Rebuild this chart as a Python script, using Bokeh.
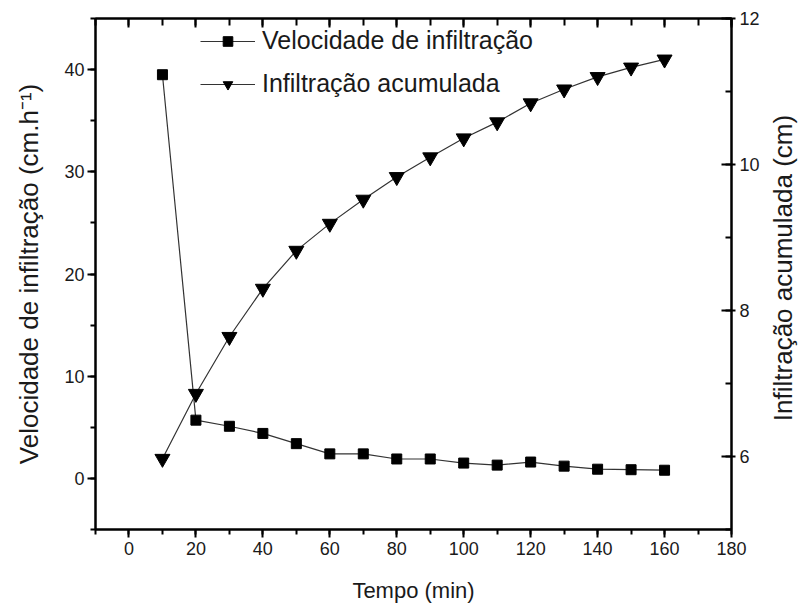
from bokeh.plotting import figure
from bokeh.layouts import row
from bokeh.models import (LinearAxis, Range1d, SingleIntervalTicker, Legend, LegendItem, Div)
from bokeh.embed import file_html
from bokeh.resources import INLINE

# ---- data ----
tempo = [10, 20, 30, 40, 50, 60, 70, 80, 90, 100, 110, 120, 130, 140, 150, 160]
velocidade = [39.5, 5.7, 5.1, 4.4, 3.4, 2.4, 2.4, 1.9, 1.9, 1.5, 1.3, 1.6, 1.2, 0.9, 0.85, 0.8]
acumulada = [5.97, 6.86, 7.64, 8.30, 8.82, 9.19, 9.52, 9.83, 10.10, 10.36, 10.58, 10.84, 11.03, 11.20, 11.33, 11.44]

x_ticks = [0, 20, 40, 60, 80, 100, 120, 140, 160, 180]
x_label = "Tempo (min)"
y_label = "Velocidade de infiltração (cm.h⁻¹)"
y2_label = "Infiltração acumulada (cm)"
series_names = ["Velocidade de infiltração", "Infiltração acumulada"]

FONT = "Liberation Sans"
TXT = "#1a1a1a"

p = figure(width=762, height=606, output_backend="svg", toolbar_location=None,
           x_range=Range1d(-10, 180), y_range=Range1d(-5, 45),
           min_border_left=95, min_border_right=29, min_border_top=18, min_border_bottom=77)
p.extra_y_ranges = {"y2": Range1d(5, 12)}
p.xgrid.visible = False
p.ygrid.visible = False
p.outline_line_color = "black"
p.outline_line_width = 2
p.background_fill_color = "white"
p.border_fill_color = "white"

def style_axis(ax):
    ax.axis_line_width = 2
    ax.axis_line_color = "black"
    ax.major_tick_line_width = 2
    ax.minor_tick_line_width = 2
    ax.major_tick_line_color = "black"
    ax.minor_tick_line_color = "black"
    ax.major_label_text_font = FONT
    ax.major_label_text_font_size = "18px"
    ax.major_label_text_color = TXT
    ax.axis_label_text_font = FONT
    ax.axis_label_text_font_size = "22px"
    ax.axis_label_text_font_style = "normal"
    ax.axis_label_text_color = TXT

# bottom axis
xa = p.xaxis[0]
xa.ticker = SingleIntervalTicker(interval=20, num_minor_ticks=2)
style_axis(xa)
xa.major_tick_out = 8
xa.major_tick_in = 0
xa.minor_tick_out = 5
xa.minor_tick_in = 0
xa.major_label_standoff = 4
xa.axis_label = x_label
xa.axis_label_standoff = 20

# left axis
ya = p.yaxis[0]
ya.ticker = SingleIntervalTicker(interval=10, num_minor_ticks=2)
style_axis(ya)
ya.axis_label_text_font_size = "26px"
ya.major_tick_out = 8
ya.major_tick_in = 0
ya.minor_tick_out = 5
ya.minor_tick_in = 0
ya.major_label_standoff = 3
ya.axis_label = y_label
ya.axis_label_standoff = 17

# top mirrored axis (ticks only)
top = LinearAxis(ticker=SingleIntervalTicker(interval=20, num_minor_ticks=2))
style_axis(top)
top.major_tick_out = 0
top.major_tick_in = 9
top.minor_tick_out = 0
top.minor_tick_in = 7
top.major_label_overrides = {t: "" for t in x_ticks}
top.major_label_standoff = 0
p.add_layout(top, "above")

# right axis (its title is set beside the plot so it reads bottom-to-top)
ra = LinearAxis(y_range_name="y2", ticker=SingleIntervalTicker(interval=2, num_minor_ticks=2))
style_axis(ra)
ra.major_tick_out = 4
ra.major_tick_in = 10
ra.minor_tick_out = 0
ra.minor_tick_in = 6
ra.major_label_standoff = 4
p.add_layout(ra, "right")

# series
l1 = p.line(tempo, velocidade, line_color="#333333", line_width=1.2)
s1 = p.scatter(tempo, velocidade, marker="square", size=10, fill_color="black", line_color="black")
l2 = p.line(tempo, acumulada, y_range_name="y2", line_color="#333333", line_width=1.2)
s2 = p.scatter(tempo, acumulada, y_range_name="y2", marker="inverted_triangle", size=15,
               fill_color="black", line_color="black")

legend = Legend(items=[LegendItem(label=series_names[0], renderers=[l1, s1]),
                       LegendItem(label=series_names[1], renderers=[l2, s2])],
                location=(105, 431))
legend.border_line_color = None
legend.background_fill_alpha = 0
legend.padding = 0
legend.margin = 0
legend.spacing = 14
legend.glyph_width = 55
legend.glyph_height = 24
legend.label_height = 24
legend.label_standoff = 7
legend.label_text_font = FONT
legend.label_text_font_size = "25px"
legend.label_text_color = TXT
p.add_layout(legend, "center")

y2_title = Div(
    text=('<div style="position:relative;width:37px;height:606px;background:white;">'
          '<span style="position:absolute;left:21px;top:268px;line-height:1.1;'
          'transform:translate(-50%,-50%) rotate(-90deg);white-space:nowrap;'
          "font-family:'Liberation Sans';font-size:26px;color:" + TXT + ';">'
          + y2_label + '</span></div>'),
    width=37, height=606, margin=0)

layout = row(p, y2_title, spacing=0)

open("out.html", "w").write(file_html(layout, INLINE))
